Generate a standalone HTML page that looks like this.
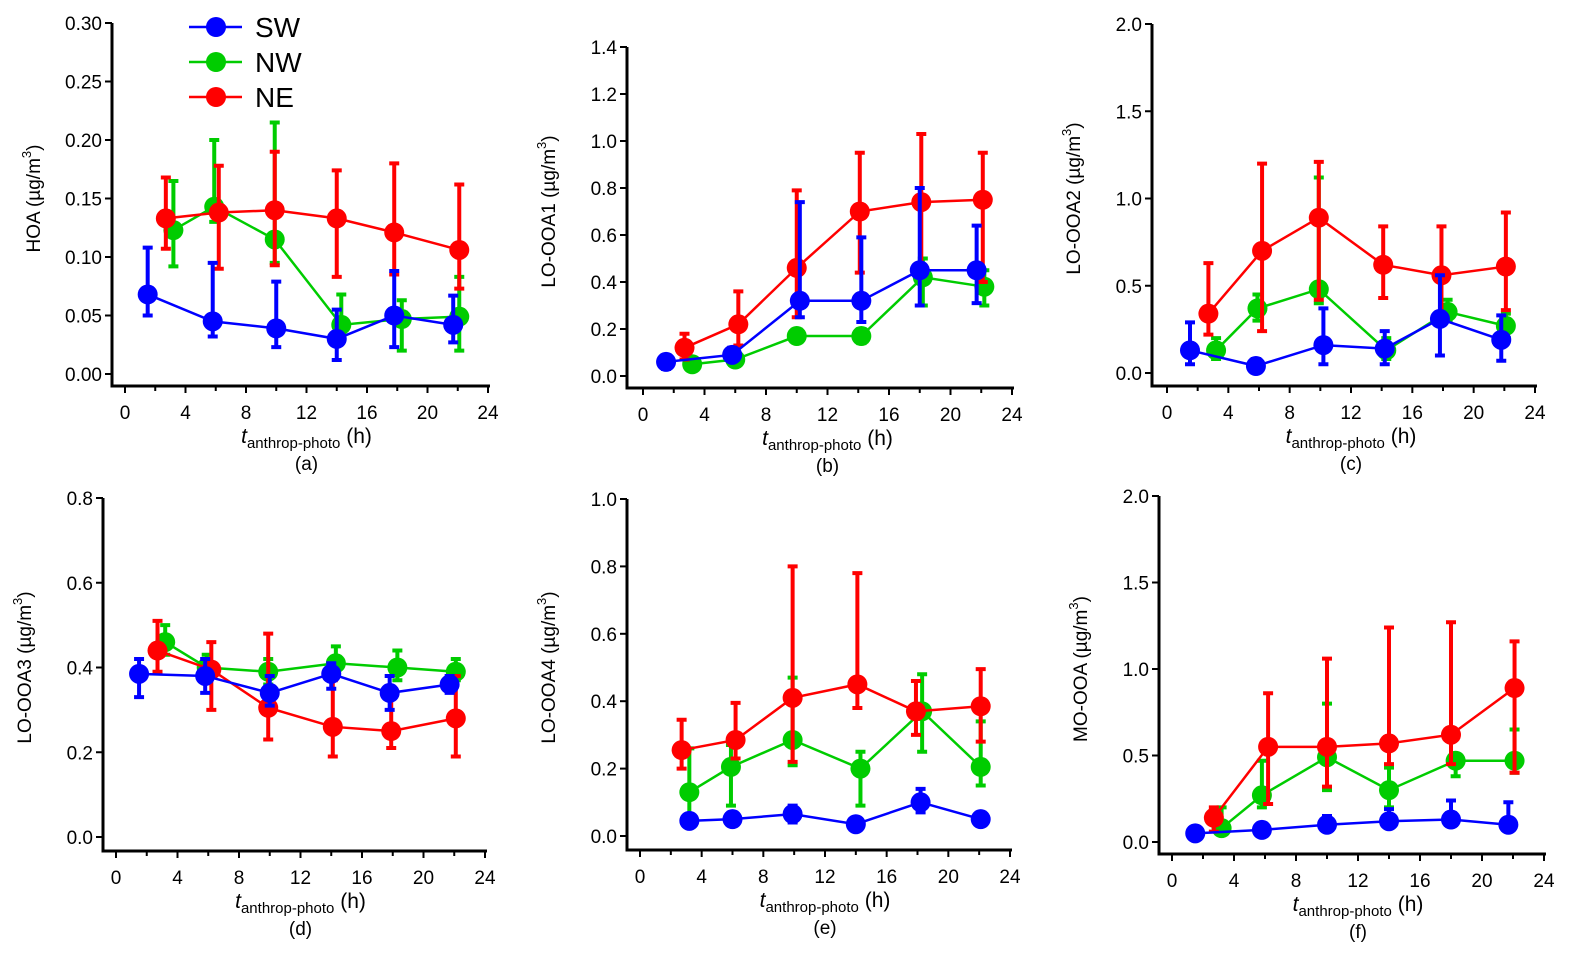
<!DOCTYPE html>
<html><head><meta charset="utf-8"><style>
body{margin:0;background:#fff;}
svg{display:block;font-family:"Liberation Sans",Arial,sans-serif;}
</style></head><body>
<svg id="chart" width="1570" height="957" viewBox="0 0 1570 957"></svg>
<script>
// ---- data ----
const seriesNames = ["SW","NW","NE"];
const seriesColors = ["#0000ff","#00cc00","#ff0000"];
const panelTitles = ["HOA","LO-OOA1","LO-OOA2","LO-OOA3","LO-OOA4","MO-OOA"];
const panelLetters = ["(a)","(b)","(c)","(d)","(e)","(f)"];
const yMaxes = [0.30,1.4,2.0,0.8,1.0,2.0];
const yTickLabels = [
 ["0.00","0.05","0.10","0.15","0.20","0.25","0.30"],
 ["0.0","0.2","0.4","0.6","0.8","1.0","1.2","1.4"],
 ["0.0","0.5","1.0","1.5","2.0"],
 ["0.0","0.2","0.4","0.6","0.8"],
 ["0.0","0.2","0.4","0.6","0.8","1.0"],
 ["0.0","0.5","1.0","1.5","2.0"]];
const xTickLabels = ["0","4","8","12","16","20","24"];
const aX = [[1.5,5.8,10,14,17.8,21.7],[3.2,5.9,9.9,14.3,18.3,22.1],[2.7,6.2,9.9,14,17.8,22.1]];
const aY = [[.068,.045,.039,.030,.050,.042],[.123,.143,.115,.042,.047,.049],[.133,.138,.140,.133,.121,.106]];
const aLo = [[.05,.032,.023,.012,.023,.027],[.092,.13,.095,.035,.02,.02],[.107,.09,.093,.083,.085,.073]];
const aHi = [[.108,.095,.079,.055,.088,.067],[.165,.2,.215,.068,.063,.083],[.168,.178,.19,.174,.18,.162]];
const bX = [[1.5,5.8,10.2,14.2,18,21.7],[3.2,6,10,14.2,18.2,22.2],[2.7,6.2,10,14.1,18.1,22.1]];
const bY = [[.06,.09,.32,.32,.45,.45],[.05,.07,.17,.17,.42,.38],[.12,.22,.46,.70,.74,.75]];
const bLo = [[.03,.07,.25,.23,.3,.31],[.03,.05,.15,.14,.3,.3],[.07,.13,.25,.44,.45,.4]];
const bHi = [[.08,.12,.74,.59,.8,.64],[.07,.1,.19,.2,.5,.45],[.18,.36,.79,.95,1.03,.95]];
const cX = [[1.5,5.8,10.2,14.2,17.8,21.8],[3.2,5.9,9.9,14.3,18.3,22.1],[2.7,6.2,9.9,14.1,17.9,22.1]];
const cY = [[.13,.04,.16,.14,.31,.19],[.13,.37,.48,.13,.35,.27],[.34,.70,.89,.62,.56,.61]];
const cLo = [[.05,.02,.05,.05,.1,.07],[.08,.3,.4,.08,.3,.2],[.22,.24,.42,.43,.34,.36]];
const cHi = [[.29,.08,.37,.24,.56,.33],[.2,.45,1.12,.2,.42,.34],[.63,1.2,1.21,.84,.84,.92]];
const dX = [[1.5,5.8,10,14,17.8,21.7],[3.2,5.9,9.9,14.3,18.3,22.1],[2.7,6.2,9.9,14.1,17.9,22.1]];
const dY = [[.385,.38,.34,.385,.34,.36],[.46,.40,.39,.41,.40,.39],[.44,.395,.305,.26,.25,.28]];
const dLo = [[.33,.34,.31,.35,.3,.34],[.43,.38,.36,.38,.37,.37],[.39,.30,.23,.19,.21,.19]];
const dHi = [[.42,.42,.38,.41,.38,.38],[.50,.43,.42,.45,.44,.42],[.51,.46,.48,.37,.33,.38]];
const eX = [[3.2,6,9.9,14,18.2,22.1],[3.2,5.9,9.9,14.3,18.3,22.1],[2.7,6.2,9.9,14.1,17.9,22.1]];
const eY = [[.045,.05,.065,.035,.10,.05],[.13,.205,.285,.20,.37,.205],[.255,.285,.41,.45,.37,.385]];
const eLo = [[.03,.03,.04,.02,.07,.04],[.05,.09,.21,.09,.25,.15],[.2,.23,.22,.38,.3,.28]];
const eHi = [[.06,.07,.09,.05,.14,.06],[.26,.27,.47,.25,.48,.34],[.345,.395,.80,.78,.46,.495]];
const fX = [[1.5,5.8,10,14,18,21.7],[3.2,5.8,10,14,18.3,22.1],[2.7,6.2,10,14,18,22.1]];
const fY = [[.05,.07,.10,.12,.13,.10],[.08,.27,.49,.30,.47,.47],[.14,.55,.55,.57,.62,.89]];
const fLo = [[.03,.05,.07,.09,.1,.08],[.05,.2,.3,.2,.38,.4],[.06,.22,.32,.45,.45,.40]];
const fHi = [[.08,.1,.15,.19,.24,.23],[.2,.47,.8,.43,.48,.65],[.2,.86,1.06,1.24,1.27,1.16]];
const allX=[aX,bX,cX,dX,eX,fX], allY=[aY,bY,cY,dY,eY,fY], allLo=[aLo,bLo,cLo,dLo,eLo,fLo], allHi=[aHi,bHi,cHi,dHi,eHi,fHi];

// ---- layout ----
const layouts = [
 {ax:112,x0:125,x1:488,y0:374,y1:23,bot:386},
 {ax:627,x0:643,x1:1012,y0:376,y1:47,bot:388},
 {ax:1152,x0:1167,x1:1535,y0:373,y1:24,bot:386},
 {ax:103,x0:116,x1:485,y0:837,y1:498,bot:851},
 {ax:627,x0:640,x1:1010,y0:836,y1:499,bot:850},
 {ax:1159,x0:1172,x1:1544,y0:842,y1:496,bot:854}];
const NS="http://www.w3.org/2000/svg";
const svg=document.getElementById('chart');
function mk(tag,attrs,parent){const e=document.createElementNS(NS,tag);for(const k in attrs)e.setAttribute(k,attrs[k]);(parent||svg).appendChild(e);return e;}

layouts.forEach((L,p)=>{
 const g=mk('g',{});
 
 
 const xs=v=>L.x0+(L.x1-L.x0)*v/24;
 const ys=v=>L.y0-(L.y0-L.y1)*v/yMaxes[p];
 const right=L.x1+2;
 const ya=mk('line',{x1:L.ax,y1:L.y1,x2:L.ax,y2:L.bot+1.5,stroke:'#000','stroke-width':3},g);
 
 
 const xa=mk('line',{x1:L.ax-1.5,y1:L.bot,x2:right,y2:L.bot,stroke:'#000','stroke-width':3},g);
 
 
 const yt=yTickLabels[p];
 yt.forEach((lab,i)=>{
  const v=yMaxes[p]*i/(yt.length-1), y=ys(v);
  mk('line',{x1:L.ax-7,y1:y,x2:L.ax,y2:y,stroke:'#000','stroke-width':2},g);
  const t=mk('text',{x:L.ax-10,y:y+7,'text-anchor':'end','font-size':19},g);
  t.textContent=lab;
  
  
 });
 for(let h=0;h<=24;h+=2){
  const x=xs(h);
  mk('line',{x1:x,y1:L.bot,x2:x,y2:L.bot+(h%4==0?7:5),stroke:'#000','stroke-width':2},g);
 }
 xTickLabels.forEach(lab=>{
  const t=mk('text',{x:xs(+lab),y:L.bot+33,'text-anchor':'middle','font-size':19},g);
  t.textContent=lab;
  
  
 });
 const cx=(L.x0+L.x1)/2;
 const xt=mk('text',{x:cx,y:L.bot+57,'text-anchor':'middle','font-size':21},g);
 xt.innerHTML='<tspan font-style="italic">t</tspan><tspan font-size="15" dy="5">anthrop-photo</tspan><tspan dy="-5"> (h)</tspan>';
 
 
 const lt=mk('text',{x:cx,y:L.bot+84,'text-anchor':'middle','font-size':19},g);
 lt.textContent=panelLetters[p];
 
 
 const my=(L.y0+L.y1)/2, tx=L.ax-72;
 const tt=mk('text',{x:tx,y:my,'text-anchor':'middle','font-size':19,transform:`rotate(-90 ${tx} ${my})`},g);
 tt.innerHTML=panelTitles[p]+' (µg/m<tspan font-size="13" dy="-9">3</tspan><tspan dy="9">)</tspan>';
 
 
 [1,2,0].forEach(s=>{
  const col=seriesColors[s];
  const sg=mk('g',{},g);
  
  
  const X=allX[p][s],Y=allY[p][s],LO=allLo[p][s],HI=allHi[p][s];
  const pl=mk('polyline',{points:X.map((x,i)=>xs(x)+','+ys(Y[i])).join(' '),fill:'none',stroke:col,'stroke-width':2.5},sg);
  
  
  X.forEach((x,i)=>{
   const px=xs(x);
   const eb=mk('path',{d:`M${px},${ys(LO[i])}V${ys(HI[i])}M${px-5},${ys(LO[i])}H${px+5}M${px-5},${ys(HI[i])}H${px+5}`,stroke:col,'stroke-width':4,fill:'none'},sg);
   
   
   const c=mk('circle',{cx:px,cy:ys(Y[i]),r:10,fill:col},sg);
   
   
  });
 });
});
const lg=mk('g',{});


seriesNames.forEach((n,i)=>{
 const y=27+i*35;
 const e=mk('g',{},lg);
 
 
 mk('line',{x1:189,y1:y,x2:242,y2:y,stroke:seriesColors[i],'stroke-width':2.5},e);
 mk('circle',{cx:216,cy:y,r:10,fill:seriesColors[i]},e);
 const t=mk('text',{x:255,y:y+10,'font-size':28},e);
 t.textContent=n;
});
</script>
</body></html>
